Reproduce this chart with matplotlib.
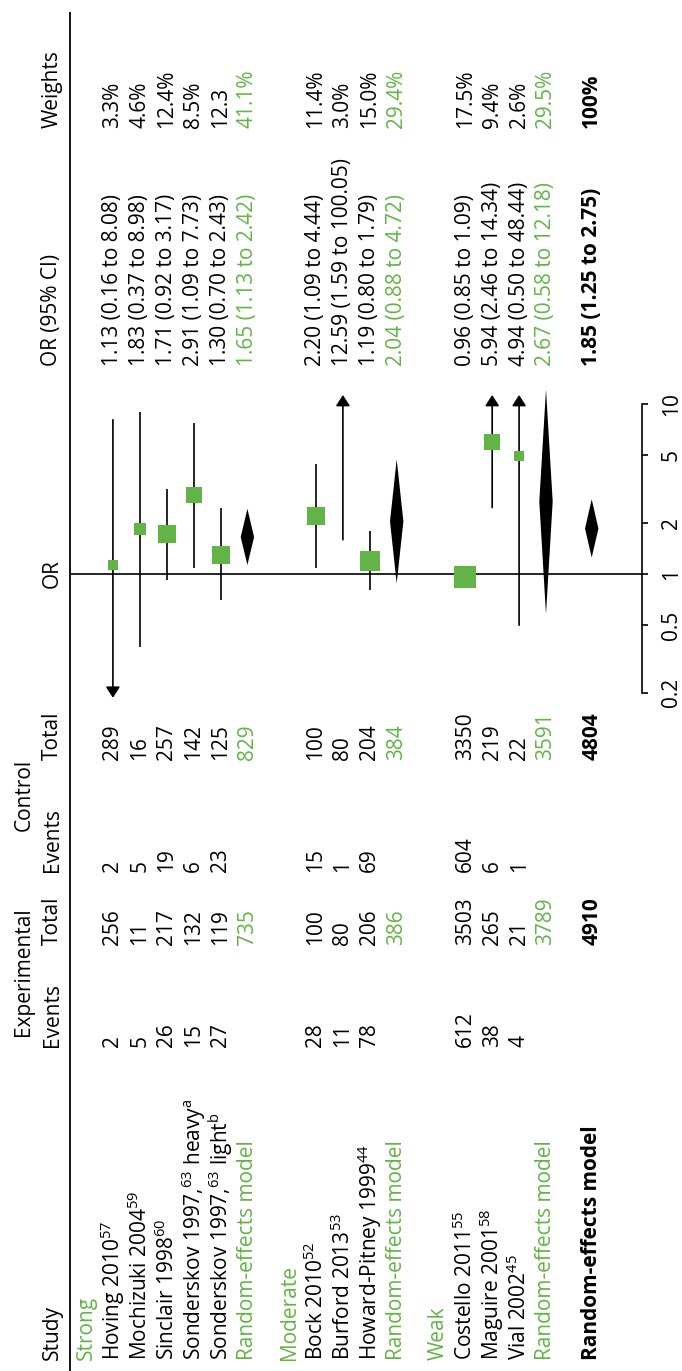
import matplotlib
matplotlib.use("Agg")
import matplotlib.pyplot as plt
from matplotlib.patches import Polygon
from matplotlib.ticker import NullLocator

plt.rcParams['font.family'] = ['Open Sans', 'DejaVu Sans']
plt.rcParams['mathtext.fontset'] = 'custom'
plt.rcParams['mathtext.rm'] = 'Open Sans'
plt.rcParams['mathtext.it'] = 'Open Sans:italic'
plt.rcParams['mathtext.bf'] = 'Open Sans:bold'

GREEN = '#62b446'
FS = 15

# ---- data ----
group_names = ["Strong", "Moderate", "Weak"]
study_names = ["Hoving 2010$^{57}$", "Mochizuki 2004$^{59}$", "Sinclair 1998$^{60}$",
               "Sonderskov 1997,$^{63}$ heavy$^{\\mathrm{a}}$",
               "Sonderskov 1997,$^{63}$ light$^{\\mathrm{b}}$",
               "Bock 2010$^{52}$", "Burford 2013$^{53}$", "Howard-Pitney 1999$^{44}$",
               "Costello 2011$^{55}$", "Maguire 2001$^{58}$", "Vial 2002$^{45}$"]
study_group = [0, 0, 0, 0, 0, 1, 1, 1, 2, 2, 2]
exp_events = [2, 5, 26, 15, 27, 28, 11, 78, 612, 38, 4]
exp_total = [256, 11, 217, 132, 119, 100, 80, 206, 3503, 265, 21]
ctrl_events = [2, 5, 19, 6, 23, 15, 1, 69, 604, 6, 1]
ctrl_total = [289, 16, 257, 142, 125, 100, 80, 204, 3350, 219, 22]
or_est = [1.13, 1.83, 1.71, 2.91, 1.30, 2.20, 12.59, 1.19, 0.96, 5.94, 4.94]
or_lo = [0.16, 0.37, 0.92, 1.09, 0.70, 1.09, 1.59, 0.80, 0.85, 2.46, 0.50]
or_hi = [8.08, 8.98, 3.17, 7.73, 2.43, 4.44, 100.05, 1.79, 1.09, 14.34, 48.44]
weight_labels = ["3.3%", "4.6%", "12.4%", "8.5%", "12.3", "11.4%", "3.0%", "15.0%",
                 "17.5%", "9.4%", "2.6%"]

sub_exp_total = [735, 386, 3789]
sub_ctrl_total = [829, 384, 3591]
sub_or = [1.65, 2.04, 2.67]
sub_lo = [1.13, 0.88, 0.58]
sub_hi = [2.42, 4.72, 12.18]
sub_weight_labels = ["41.1%", "29.4%", "29.5%"]

all_exp_total = 4910
all_ctrl_total = 4804
all_or, all_lo, all_hi = 1.85, 1.25, 2.75
all_weight_label = "100%"

or_ticks = [0.2, 0.5, 1, 2, 5, 10]
or_tick_labels = ["0.2", "0.5", "1", "2", "5", "10"]

# ---- layout ----
W, H = 682, 1371
row0, step = 86, 26.9
gap, gap_total = 1.55, 1.7
x_left, x_axis = 70, 642
y_one, decade = 574, 170
clip_lo, clip_hi = 0.187, 11.3

col_study, col_ee, col_et, col_ce, col_ct, col_ci, col_w = 1360, 1047, 945, 872, 760, 366, 128
head1, head2 = 24, 52

fig = plt.figure(figsize=(W / 100, H / 100), dpi=100)
ax = fig.add_axes([0, 0, 1, 1])
ax.set_xlim(0, W)
ax.set_ylim(H, 0)
ax.axis('off')

fx = fig.add_axes([x_left / W, 0, (x_axis - x_left) / W, 1])
fx.set_yscale('log')
fx.set_ylim(10 ** ((y_one - H) / decade), 10 ** (y_one / decade))
fx.set_xlim(x_left, x_axis)
fx.patch.set_visible(False)
for s in ['left', 'top', 'bottom']:
    fx.spines[s].set_visible(False)
fx.spines['right'].set_bounds(or_ticks[0], or_ticks[-1])
fx.spines['right'].set_linewidth(1.2)
fx.yaxis.tick_right()
fx.set_yticks(or_ticks)
fx.set_yticklabels(or_tick_labels)
fx.yaxis.set_minor_locator(NullLocator())
fx.set_xticks([])
fx.tick_params(axis='y', direction='out', length=4.5, width=1.2, pad=9,
               labelsize=FS, labelrotation=90)
for lab in fx.get_yticklabels():
    lab.set_va('center')


def put(x, y, s, color='k', weight='normal', ha='left'):
    ax.text(x, y, s, rotation=90, rotation_mode='anchor', ha=ha, va='center',
            fontsize=FS, color=color, fontweight=weight)


def whisker(x, lo, hi):
    a = max(lo, clip_lo)
    b = min(hi, clip_hi)
    arrow = dict(arrowstyle='-|>,head_length=0.65,head_width=0.42', lw=1.2,
                 color='k', shrinkA=0, shrinkB=0, mutation_scale=10)
    if lo < or_ticks[0] and hi > or_ticks[-1]:
        fx.annotate('', xy=(x, clip_hi), xytext=(x, clip_lo), arrowprops=arrow)
    elif lo < or_ticks[0]:
        fx.annotate('', xy=(x, clip_lo), xytext=(x, b), arrowprops=arrow)
    elif hi > or_ticks[-1]:
        fx.annotate('', xy=(x, clip_hi), xytext=(x, a), arrowprops=arrow)
    else:
        fx.plot([x, x], [a, b], color='k', lw=1.2, solid_capstyle='butt')


def diamond(x, est, lo, hi):
    hw = 6.7
    fx.add_patch(Polygon([(x, lo), (x + hw, est), (x, hi), (x - hw, est)],
                         closed=True, facecolor='k', edgecolor='none', zorder=3))


# headers
put(head2, col_study, "Study")
put(head1, (col_ee + col_et - 48) / 2, "Experimental", ha='center')
put(head2, col_ee, "Events")
put(head2, col_et, "Total")
put(head1, (col_ce + col_ct - 43) / 2, "Control", ha='center')
put(head2, col_ce, "Events")
put(head2, col_ct, "Total")
put(head2, y_one, "OR", ha='center')
put(head2, col_ci, "OR (95% CI)")
put(head2, col_w, "Weights")

ax.plot([x_left, x_left], [12, H], color='k', lw=1.3, solid_capstyle='butt')
fx.axhline(1, color='k', lw=1.2)

u = 0.0
for g, gname in enumerate(group_names):
    if g > 0:
        u += gap
    put(row0 + step * u, col_study, gname, color=GREEN)
    for i in [k for k, sg in enumerate(study_group) if sg == g]:
        u += 1
        x = row0 + step * u
        put(x, col_study, study_names[i])
        put(x, col_ee, str(exp_events[i]))
        put(x, col_et, str(exp_total[i]))
        put(x, col_ce, str(ctrl_events[i]))
        put(x, col_ct, str(ctrl_total[i]))
        put(x, col_ci, f"{or_est[i]:.2f} ({or_lo[i]:.2f} to {or_hi[i]:.2f})")
        put(x, col_w, weight_labels[i])
        whisker(x, or_lo[i], or_hi[i])
        if or_ticks[0] <= or_est[i] <= or_ticks[-1]:
            w = float(weight_labels[i].rstrip('%'))
            side = (8.4 + 0.78 * w) * 0.72
            fx.plot([x], [or_est[i]], marker='s', markersize=side, color=GREEN,
                    markeredgewidth=0, zorder=4)
    u += 1
    x = row0 + step * u
    put(x, col_study, "Random-effects model", color=GREEN)
    put(x, col_et, str(sub_exp_total[g]), color=GREEN)
    put(x, col_ct, str(sub_ctrl_total[g]), color=GREEN)
    put(x, col_ci, f"{sub_or[g]:.2f} ({sub_lo[g]:.2f} to {sub_hi[g]:.2f})", color=GREEN)
    put(x, col_w, sub_weight_labels[g], color=GREEN)
    diamond(x, sub_or[g], sub_lo[g], sub_hi[g])

u += gap_total
x = row0 + step * u
put(x, col_study, "Random-effects model", weight='bold')
put(x, col_et, str(all_exp_total), weight='bold')
put(x, col_ct, str(all_ctrl_total), weight='bold')
put(x, col_ci, f"{all_or:.2f} ({all_lo:.2f} to {all_hi:.2f})", weight='bold')
put(x, col_w, all_weight_label, weight='bold')
diamond(x, all_or, all_lo, all_hi)

fig.savefig("out.png", dpi=100)
